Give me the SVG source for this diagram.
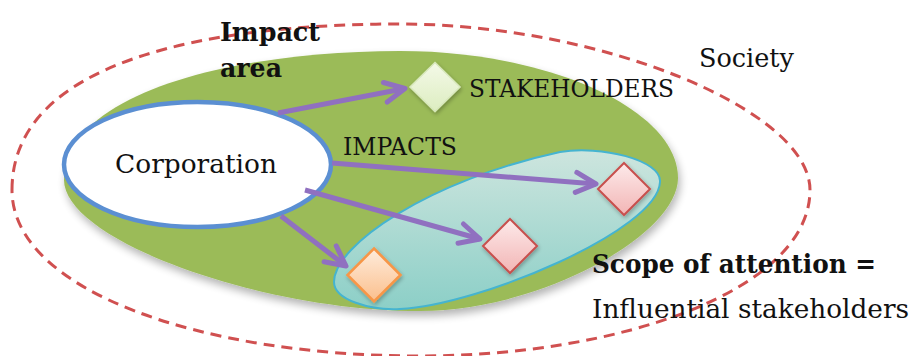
<svg xmlns="http://www.w3.org/2000/svg" width="914" height="356" viewBox="0 0 914 356">
<style>
.lbl{font-family:"DejaVu Serif","Liberation Serif",serif;fill:#111;}
.b{font-weight:bold;}
.conn{fill:none;stroke:#9070c0;stroke-width:5;marker-end:url(#ah);}
.red{fill:url(#gRed);stroke:#c8504d;stroke-width:2;}
</style>
<defs>
<linearGradient id="gRed" x1="0" y1="0" x2="0" y2="1"><stop offset="0" stop-color="#fdeaea"/><stop offset="1" stop-color="#f2b5b5"/></linearGradient>
<linearGradient id="gOr" x1="0" y1="0" x2="0" y2="1"><stop offset="0" stop-color="#feecdc"/><stop offset="1" stop-color="#fbbf8c"/></linearGradient>
<linearGradient id="gGr" x1="0" y1="0" x2="0" y2="1"><stop offset="0" stop-color="#f4f9e8"/><stop offset="1" stop-color="#dcedc0"/></linearGradient>
<linearGradient id="gTeal" x1="0" y1="0" x2="0" y2="1"><stop offset="0" stop-color="#cde5de"/><stop offset="1" stop-color="#8ccfc7"/></linearGradient>
<filter id="sh" x="-10%" y="-10%" width="120%" height="135%">
<feGaussianBlur in="SourceAlpha" stdDeviation="4"/><feOffset dx="2" dy="5"/>
<feComponentTransfer><feFuncA type="linear" slope="0.3"/></feComponentTransfer>
<feMerge><feMergeNode/><feMergeNode in="SourceGraphic"/></feMerge>
</filter>
<filter id="sh2" x="-30%" y="-30%" width="160%" height="160%">
<feGaussianBlur in="SourceAlpha" stdDeviation="2"/><feOffset dx="1" dy="2"/>
<feComponentTransfer><feFuncA type="linear" slope="0.3"/></feComponentTransfer>
<feMerge><feMergeNode/><feMergeNode in="SourceGraphic"/></feMerge>
</filter>
<marker id="ah" markerUnits="userSpaceOnUse" viewBox="-26 -15 30 30" markerWidth="30" markerHeight="30" refX="0" refY="0" orient="auto">
<path d="M -20,-10 L 0,0 L -20,10" fill="none" stroke="#9070c0" stroke-width="5" stroke-linecap="round" stroke-linejoin="round"/>
</marker>
</defs>

<g id="society">
<path d="M 12,190 C 12,60 210,24 400,24 C 600,24 810,110 810,190 C 810,290 620,356 420,356 C 200,356 12,290 12,190 Z" fill="none" stroke="#d05050" stroke-width="3" stroke-dasharray="11 7"/>
<text class="lbl" x="699" y="67" font-size="26" textLength="95" lengthAdjust="spacingAndGlyphs">Society</text>
</g>

<g id="impact-area">
<path d="M 64,180 C 64,95 230,51 400,51 C 550,51 678,110 678,178 C 678,235 540,311 420,311 C 260,311 64,240 64,180 Z" fill="#9bbb59" filter="url(#sh)"/>
<text class="lbl b" x="220" y="41" font-size="26" textLength="100" lengthAdjust="spacingAndGlyphs">Impact</text>
<text class="lbl b" x="220" y="77" font-size="26" textLength="62" lengthAdjust="spacingAndGlyphs">area</text>
</g>

<g id="corporation">
<ellipse cx="197.5" cy="164.5" rx="133.5" ry="62.5" fill="#ffffff" stroke="#5b8fd2" stroke-width="4.5"/>
<text class="lbl" x="115" y="173" font-size="26" textLength="162" lengthAdjust="spacingAndGlyphs">Corporation</text>
</g>

<g id="scope">
<path d="M 334,282 C 334,245 430,180 560,152 C 600,145 662,160 660,182 C 658,230 480,305 400,309 C 370,310.5 334,300 334,282 Z" fill="url(#gTeal)" stroke="#45b4d0" stroke-width="2"/>
<text class="lbl b" x="592" y="273" font-size="26" textLength="284" lengthAdjust="spacingAndGlyphs">Scope of attention =</text>
<text class="lbl" x="592" y="318" font-size="26" textLength="317" lengthAdjust="spacingAndGlyphs">Influential stakeholders</text>
</g>

<g id="connectors">
<path class="conn" d="M 278,113 L 405,88.5"/>
<path class="conn" d="M 332,163 L 596,184"/>
<path class="conn" d="M 305,190 L 480,239"/>
<path class="conn" d="M 281,216 L 346,266"/>
<text class="lbl" x="343" y="155" font-size="24" textLength="114" lengthAdjust="spacingAndGlyphs">IMPACTS</text>
</g>

<g id="stakeholders">
<path d="M 435,62.5 L 460,87 L 435,111.5 L 410,87 Z" fill="url(#gGr)" stroke="#d8e8bc" stroke-width="1.5" filter="url(#sh2)"/>
<text class="lbl" x="469" y="97" font-size="25" textLength="205" lengthAdjust="spacingAndGlyphs">STAKEHOLDERS</text>
</g>

<g id="stakeholder-red-1">
<path class="red" d="M 624,163 L 650,189 L 624,215 L 598,189 Z" filter="url(#sh2)"/>
</g>
<g id="stakeholder-red-2">
<path class="red" d="M 510,219 L 537,246 L 510,273 L 483,246 Z" filter="url(#sh2)"/>
</g>
<g id="stakeholder-orange">
<path d="M 374,248.5 L 400.5,275 L 374,301.5 L 347.5,275 Z" fill="url(#gOr)" stroke="#f79646" stroke-width="2.5" filter="url(#sh2)"/>
</g>
</svg>
